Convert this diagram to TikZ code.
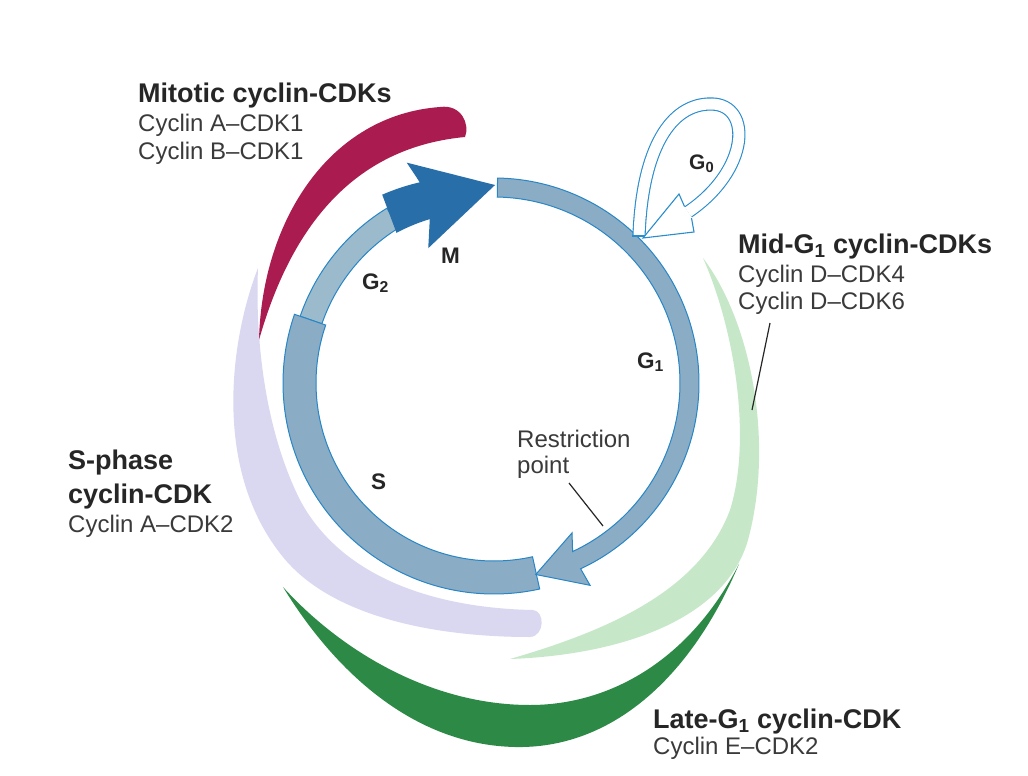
\documentclass[tikz,border=0pt]{standalone}
\usepackage{fontspec}
\setmainfont{Liberation Sans}
\definecolor{ringfill}{RGB}{138,172,196}
\definecolor{ringfillb}{RGB}{155,187,204}
\definecolor{ringedge}{RGB}{40,134,198}
\definecolor{mblue}{RGB}{40,111,170}
\definecolor{crimson}{RGB}{170,28,80}
\definecolor{lavender}{RGB}{218,216,240}
\definecolor{lightgreen}{RGB}{198,232,200}
\definecolor{darkgreen}{RGB}{44,138,70}
\definecolor{g0blue}{RGB}{40,140,205}
\definecolor{textdark}{RGB}{38,38,38}
\definecolor{textreg}{RGB}{58,58,58}
\begin{document}
\begin{tikzpicture}[x=1pt,y=-1pt,
  ring/.style={fill=ringfill, draw=ringedge, line width=1pt},
  ringb/.style={fill=ringfillb, draw=ringedge, line width=1pt},
  g0band/.style={draw=g0blue, line width=1.1pt, double=white, double distance=11pt},
  g0edge/.style={draw=g0blue, line width=1.1pt, line join=miter},
  hd/.style={font=\fontsize{27}{28}\selectfont\bfseries, text=textdark, inner sep=0pt, anchor=base west},
  rg/.style={font=\fontsize{24}{28}\selectfont, text=textreg, inner sep=0pt, anchor=base west},
  phase/.style={font=\fontsize{22.5}{24}\selectfont\bfseries, text=textdark, inner sep=0pt, anchor=base west},
  leader/.style={draw=textdark, line width=1.2pt}]
\useasboundingbox (0,0) rectangle (1028,776);
\fill[white] (0,0) rectangle (1028,776);

% crescents
\fill[crimson] (259,340) .. controls (262,220) and (330,115) .. (440,107)
  .. controls (462,104) and (470,125) .. (465,137)
  .. controls (380,145) and (300,195) .. (259,340) -- cycle;

\fill[lavender] (258,268) .. controls (230,340) and (212,470) .. (283,557)
  .. controls (330,615) and (430,637) .. (530,637)
  .. controls (545,636) and (545,611) .. (533,610)
  .. controls (430,608) and (340,575) .. (300,500)
  .. controls (265,430) and (255,340) .. (258,268) -- cycle;

\fill[lightgreen] (703,258) .. controls (750,320) and (775,440) .. (748,540)
  .. controls (725,620) and (620,655) .. (510,659)
  .. controls (610,630) and (700,590) .. (730,510)
  .. controls (752,440) and (735,330) .. (703,258) -- cycle;

\fill[darkgreen] (283,587) .. controls (340,680) and (420,745) .. (515,747)
  .. controls (610,749) and (690,680) .. (739,564)
  .. controls (690,660) and (610,705) .. (530,705)
  .. controls (430,705) and (340,650) .. (283,587) -- cycle;

% cell-cycle ring
\begin{scope}[shift={(494,383)}]
  % G2
  \filldraw[ringb] plot[domain=-161:-121.5, samples=40] (\x:205) -- plot[domain=-121.5:-161, samples=40] (\x:182) -- cycle;
  % S
  \filldraw[ring] plot[domain=-282.5:-161, samples=80] (\x:211) -- plot[domain=-161:-282.5, samples=80] (\x:178) -- cycle;
  % G1 with arrowhead
  \filldraw[ring] plot[domain=-89:65, samples=100] (\x:205) -- (64.6:224) -- (77.7:196) -- (62.5:169) -- (65:186) -- plot[domain=65:-89, samples=100] (\x:186) -- cycle;
  % M arrow
  \fill[mblue] plot[domain=0:1, samples=20] ({-120.7+10.4*\x}:{219-5*\x}) -- (-111.6:237) -- (-89.7:198) -- (-116:150) -- (-111.4:176) -- plot[domain=1:0, samples=20] ({-123+11.6*\x}:{179-3*\x}) -- cycle;
\end{scope}

% G0 loop
\draw[g0band] (639,236) .. controls (642,150) and (670,103) .. (712,104) .. controls (752,105) and (750,170) .. (688,212);
\draw[g0edge] (632.4,236) -- (645.6,236);
\fill[white] (684,206) -- (679,194) -- (643,238) -- (694,232) -- (692,218) -- cycle;
\draw[g0edge] (684.5,206.5) -- (679,194) -- (643,238) -- (694,232) -- (691.5,218);

% phase labels
\node[phase] (lM) at (441,263) {M};
\node[phase] (lG2) at (362,289) {G\textsubscript{2}};
\node[phase] (lG1) at (637,368) {G\textsubscript{1}};
\node[phase] (lS) at (371,489) {S};
\node[phase, font=\fontsize{21}{22}\selectfont\bfseries] (lG0) at (689,169) {G\textsubscript{0}};

% cyclin labels
\node[hd] (mit1) at (138,102) {Mitotic cyclin-CDKs};
\node[rg] (mit2) at (138,131) {Cyclin A–CDK1};
\node[rg] (mit3) at (138,159) {Cyclin B–CDK1};

\node[hd] (mid1) at (738,253) {Mid-G\textsubscript{1} cyclin-CDKs};
\node[rg] (mid2) at (738,282) {Cyclin D–CDK4};
\node[rg] (mid3) at (738,309) {Cyclin D–CDK6};

\node[hd] (sph1) at (68,469) {S-phase};
\node[hd] (sph2) at (68,503) {cyclin-CDK};
\node[rg] (sph3) at (68,532) {Cyclin A–CDK2};

\node[hd] (late1) at (653,728) {Late-G\textsubscript{1} cyclin-CDK};
\node[rg] (late2) at (653,754) {Cyclin E–CDK2};

\node[rg] (rp1) at (517,447) {Restriction};
\node[rg] (rp2) at (517,473) {point};

% leader lines
\coordinate (rpA) at (569,483);
\coordinate (rpB) at (603,526);
\draw[leader] (rpA) -- (rpB);
\coordinate (midA) at (770,323);
\coordinate (midB) at (752,410);
\draw[leader] (midA) -- (midB);
\end{tikzpicture}
\end{document}
